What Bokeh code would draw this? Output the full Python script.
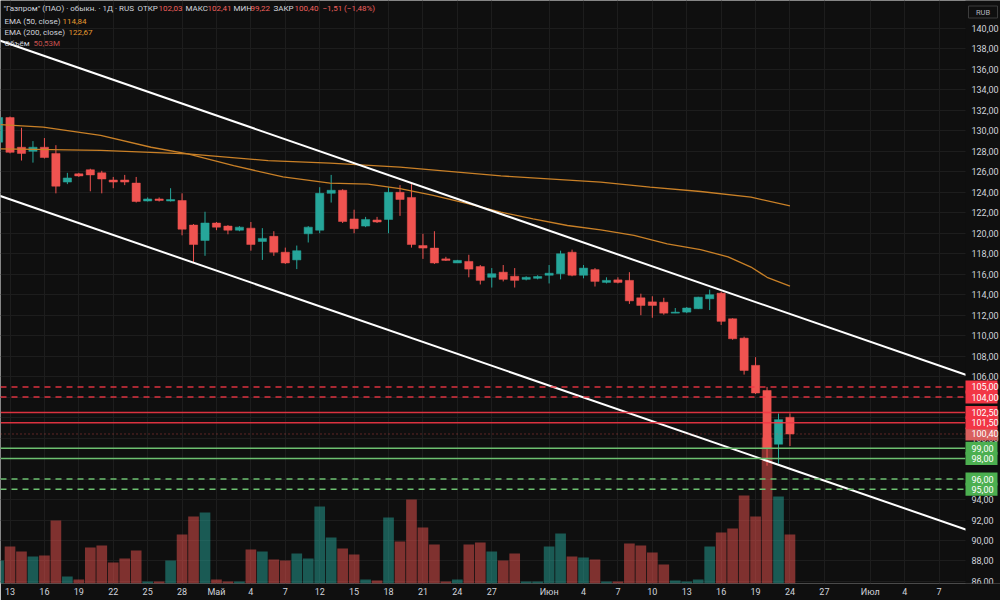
from bokeh.plotting import figure
from bokeh.models import ColumnDataSource, Range1d, FixedTicker, Label
from bokeh.core.properties import value
from bokeh.embed import file_html
from bokeh.resources import INLINE

# ---------------- data ----------------
bar_index = list(range(-1, 69))
opens = [128.9, 131.3, 128.4, 128.0, 128.4, 127.8, 125.0, 125.8, 126.2, 125.9,
         125.2, 125.2, 124.9, 123.15, 123.35, 123.15, 123.2, 120.8, 119.3, 121.0,
         120.7, 120.3, 120.5, 119.2, 119.7, 118.15, 117.4, 119.95, 120.3, 123.9,
         124.2, 121.4, 120.7, 121.3, 121.35, 124.0, 123.5, 118.8, 118.55, 117.5,
         117.1, 117.25, 116.75, 115.7, 116.2, 115.8, 115.5, 115.6, 115.9, 116.05,
         118.15, 115.9, 116.45, 115.2, 115.45, 115.4, 113.7, 113.3, 113.27, 112.2,
         112.3, 112.63, 113.6, 114.15, 111.65, 109.76, 107.1, 104.65, 99.4, 102.03]
highs = [131.8, 131.4, 130.3, 129.0, 129.3, 128.6, 125.9, 125.9, 126.3, 126.1,
         125.5, 125.7, 125.5, 123.5, 123.5, 124.4, 123.9, 120.9, 122.1, 121.1,
         120.8, 120.7, 121.1, 120.5, 120.2, 118.6, 118.8, 120.7, 124.5, 125.7,
         124.3, 122.3, 121.6, 121.6, 124.5, 124.7, 124.8, 119.95, 120.2, 117.7,
         117.4, 117.9, 116.9, 116.6, 116.9, 116.6, 115.8, 115.9, 116.9, 118.3,
         118.4, 116.9, 116.6, 115.7, 115.7, 116.2, 114.1, 113.85, 113.7, 112.7,
         112.8, 113.8, 114.5, 114.3, 111.7, 109.9, 107.9, 105.0, 102.4, 102.41]
lows = [128.5, 127.8, 127.1, 126.9, 127.3, 123.9, 124.8, 125.5, 124.1, 123.9,
        124.4, 124.7, 123.0, 123.1, 123.1, 123.1, 119.8, 117.2, 117.8, 120.3,
        119.9, 120.2, 118.3, 117.4, 117.8, 117.0, 116.5, 119.1, 120.0, 123.0,
        121.0, 120.0, 120.6, 121.0, 120.0, 121.7, 118.6, 117.5, 117.0, 117.3,
        117.1, 115.7, 115.0, 114.7, 115.3, 114.7, 115.4, 115.5, 115.1, 115.5,
        115.8, 115.6, 114.8, 115.1, 115.1, 113.1, 112.0, 111.75, 112.05, 112.2,
        112.2, 112.6, 112.5, 111.05, 109.6, 106.2, 104.3, 97.3, 97.5, 99.22]
closes = [131.3, 127.9, 127.8, 128.4, 127.4, 124.6, 125.4, 125.6, 125.7, 125.3,
          125.0, 125.0, 123.1, 123.35, 123.2, 123.3, 120.4, 118.9, 121.0, 120.6,
          120.3, 120.6, 118.9, 119.5, 118.15, 117.1, 118.3, 120.6, 123.9, 124.2,
          121.15, 120.45, 121.35, 121.1, 124.0, 123.3, 118.9, 118.55, 117.1, 117.35,
          117.35, 116.5, 115.4, 116.05, 115.5, 115.4, 115.7, 115.78, 116.1, 118.0,
          115.9, 116.6, 115.3, 115.4, 115.2, 113.4, 112.95, 112.95, 112.2, 112.3,
          112.7, 113.76, 114.0, 111.4, 109.7, 106.6, 104.4, 99.0, 101.8, 100.40]
volumes_m = [23.7, 38.1, 33.0, 27.8, 28.8, 64.9, 7.2, 4.1, 37.1, 39.1,
             21.6, 25.8, 34.0, 2.1, 2.1, 23.7, 50.5, 69.0, 73.1, 4.1,
             2.1, 2.1, 35.0, 33.0, 24.7, 23.7, 30.9, 25.8, 79.3, 47.4,
             36.1, 29.9, 4.1, 3.1, 68.0, 43.3, 86.5, 57.7, 40.2, 2.1,
             4.1, 40.2, 42.2, 33.0, 23.7, 30.9, 2.1, 2.1, 38.1, 51.5,
             27.8, 26.8, 24.7, 2.1, 2.1, 41.2, 39.1, 31.9, 19.6, 3.1,
             2.1, 4.1, 38.1, 52.5, 56.7, 90.6, 69.0, 150.4, 89.6, 50.53]

ema50_x = [-0.83, 2.9, 7.9, 12.3, 15.5, 19.5, 23.8, 27.9, 31.2, 34.0, 36.9, 39.9,
           42.8, 45.6, 48.6, 51.5, 54.4, 57.3, 60.2, 62.6, 64.6, 66.0, 68.0]
ema50_y = [130.6, 130.36, 129.55, 128.4, 127.76, 126.6, 125.5, 124.9, 124.8, 124.35,
           123.7, 122.9, 122.06, 121.4, 120.76, 120.34, 119.8, 118.97, 118.4, 117.7,
           116.7, 115.7, 114.84]
ema200_x = [-0.83, 7.9, 15.5, 22.5, 27.9, 34.0, 42.8, 51.5, 55.8, 60.2, 64.6, 68.0]
ema200_y = [128.25, 128.1, 127.76, 127.1, 126.85, 126.45, 125.6, 125.0, 124.5, 124.08,
            123.53, 122.67]

channel_x = [-3, 90]
channel_upper = [139.64, 103.59]
channel_lower = [124.48, 88.49]

red_dashed_levels = [105.0, 104.0]
red_solid_levels = [102.5, 101.5]
green_solid_levels = [99.0, 98.0]
green_dashed_levels = [96.0, 95.0]
last_price = 100.40

price_ticks = list(range(86, 142, 2))
price_tick_labels = [f"{t:.2f}".replace(".", ",") for t in price_ticks]
date_tick_index = [0, 3, 6, 9, 12, 15, 18, 21, 24, 27, 30, 33, 36, 39, 42, 47, 50, 53,
                   56, 59, 62, 65, 68, 71, 75, 78, 81]
date_tick_labels = ["13", "16", "19", "22", "25", "28", "Май", "4", "7", "12", "15", "18",
                    "21", "24", "27", "Июн", "4", "7", "10", "13", "16", "19", "24", "27",
                    "Июл", "4", "7"]

# ---------------- styling ----------------
BG = "#0f0f0f"
UP = "#26a69a"
DOWN = "#ef5350"
LVL_RED = "#f23645"
LVL_GREEN = "#4caf50"
LINE_GREEN = "#6cc070"
EMA_COL = "#c98027"
TXT = "#d1d4dc"
FONT = "Roboto"

W, H = 1000, 600
BB = 17
FRAME_W, FRAME_H = W, H - BB
X0 = -0.83
X1 = X0 + FRAME_W / 11.47
Y0, Y1 = 85.80, 142.73
SCALE_LEFT_PX = 965  # start of the price-scale column


def dx(px):
    return X0 + px * (X1 - X0) / FRAME_W


def dy(py):
    return Y1 - py * (Y1 - Y0) / FRAME_H


p = figure(width=W, height=H, output_backend="svg", toolbar_location=None,
           x_range=Range1d(X0, X1), y_range=Range1d(Y0, Y1),
           y_axis_location=None,
           min_border_left=0, min_border_top=0, min_border_right=0, min_border_bottom=BB,
           background_fill_color=BG, border_fill_color=BG, outline_line_color=None)

# date axis
p.xaxis.ticker = FixedTicker(ticks=date_tick_index)
p.xaxis.major_label_overrides = dict(zip(date_tick_index, date_tick_labels))
ax = p.xaxis[0]
ax.axis_line_color = None
ax.major_tick_line_color = None
ax.minor_tick_line_color = None
ax.major_tick_out = 0
ax.major_tick_in = 0
ax.major_label_text_color = TXT
ax.major_label_text_font = FONT
ax.major_label_text_font_size = "9px"
ax.major_label_standoff = 3

p.xgrid.ticker = FixedTicker(ticks=date_tick_index)
p.ygrid.ticker = FixedTicker(ticks=price_ticks)
p.xgrid.grid_line_color = "#1d1d1d"
p.ygrid.grid_line_color = "#1d1d1d"

# volume (overlay, own range)
p.extra_y_ranges = {"vol": Range1d(0, 600.5)}
vol_colors = [UP if c >= o else DOWN for o, c in zip(opens, closes)]
vsrc = ColumnDataSource(dict(x=bar_index, v=volumes_m, c=vol_colors))
p.vbar(x="x", top="v", bottom=0, width=0.93, source=vsrc, y_range_name="vol",
       fill_color="c", line_color=None, fill_alpha=0.5)

# candles
src = ColumnDataSource(dict(
    x=bar_index, o=opens, h=highs, l=lows, c=closes,
    top=[max(o, c) for o, c in zip(opens, closes)],
    bot=[min(o, c) for o, c in zip(opens, closes)],
    col=vol_colors))
p.segment(x0="x", y0="l", x1="x", y1="h", source=src, line_color="col", line_width=1)
p.vbar(x="x", top="top", bottom="bot", width=0.72, source=src,
       fill_color="col", line_color="col", line_width=0.5)

# EMAs
p.line(ema200_x, ema200_y, line_color=EMA_COL, line_width=1.3)
p.line(ema50_x, ema50_y, line_color=EMA_COL, line_width=1.3)

# channel
p.line(channel_x, channel_upper, line_color="#ffffff", line_width=2)
p.line(channel_x, channel_lower, line_color="#ffffff", line_width=2)

# horizontal levels (stop at the price-scale column)
x_end = dx(SCALE_LEFT_PX)


def hlines(levels, color, dash="solid", width=1.5, alpha=1.0):
    p.segment(x0=[X0] * len(levels), x1=[x_end] * len(levels), y0=levels, y1=levels,
              line_color=color, line_width=width, line_dash=dash, line_alpha=alpha)


hlines(red_dashed_levels, LVL_RED, "6 5", alpha=0.9)
hlines(red_solid_levels, LVL_RED, alpha=0.9)
hlines(green_solid_levels, LINE_GREEN)
hlines(green_dashed_levels, LINE_GREEN, "6 5")
hlines([last_price], DOWN, "1 3", width=1, alpha=0.7)

# price scale column (covers grid / lines), tick labels through the y scale
p.quad(left=[x_end], right=[X1 + 1], bottom=[Y0], top=[Y1], fill_color=BG, line_color=None)
p.text(x=[dx(971)] * len(price_ticks), y=price_ticks, text=price_tick_labels,
       text_color=TXT, text_font=value(FONT), text_font_size="9px",
       text_baseline="middle", text_align="left")

# level boxes on the price scale
box_levels = [last_price] + red_dashed_levels + red_solid_levels + green_solid_levels + green_dashed_levels
box_colors = ["#d9605e"] + [LVL_RED] * 4 + [LVL_GREEN] * 4
box_texts = [f"{v:.2f}".replace(".", ",") for v in box_levels]
p.rect(x=[dx(981)] * len(box_levels), y=box_levels, width=32, height=13,
       width_units="screen", height_units="screen",
       fill_color=box_colors, line_color=None)
p.text(x=[dx(971)] * len(box_levels), y=box_levels, text=box_texts,
       text_color="#ffffff", text_font=value(FONT), text_font_size="9px",
       text_baseline="middle", text_align="left")

# currency box
p.rect(x=[dx(982.5)], y=[dy(11.5)], width=29, height=12, width_units="screen",
       height_units="screen", fill_color=BG, line_color="#3c3c3c", line_width=1)
p.text(x=[dx(982.5)], y=[dy(11.5)], text=["RUB"], text_color="#b2b5be",
       text_font=value(FONT), text_font_size="7.5px", text_align="center",
       text_baseline="middle")

# header legend
RED_TXT = "#f0605e"
ORANGE_TXT = "#e59a2f"
header = [
    (3, 8, '"Газпром" (ПАО) · обыкн. · 1Д · RUS', TXT),
    (137, 8, "ОТКР", TXT), (158, 8, "102,03", RED_TXT),
    (185, 8, "МАКС", TXT), (207, 8, "102,41", RED_TXT),
    (233, 8, "МИН", TXT), (250, 8, "99,22", RED_TXT),
    (273, 8, "ЗАКР", TXT), (294, 8, "100,40", RED_TXT),
    (322, 8, "−1,51 (−1,48%)", RED_TXT),
    (4, 20.5, "EMA (50, close)", TXT), (62, 20.5, "114,84", ORANGE_TXT),
    (4, 31.5, "EMA (200, close)", TXT), (68, 31.5, "122,67", ORANGE_TXT),
    (4, 43, "Объём", TXT), (33, 43, "50,53M", "#c4504e"),
]
for px, py, t, col in header:
    p.add_layout(Label(x=dx(px), y=dy(py), text=t, text_color=col, text_font=FONT,
                       text_font_size="8px", text_baseline="middle", text_align="left"))

open("out.html", "w").write(file_html(p, INLINE))
